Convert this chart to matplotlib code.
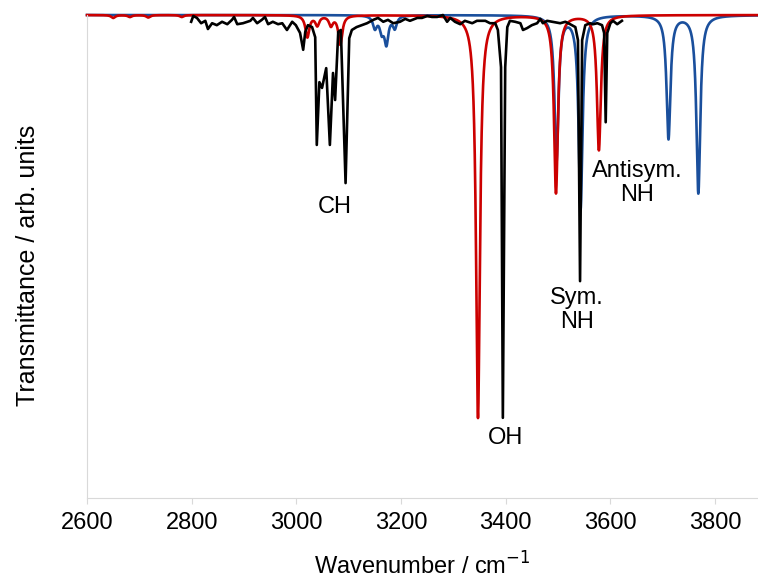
import numpy as np
import matplotlib
matplotlib.use('Agg')
import matplotlib.pyplot as plt

plt.rcParams['font.family'] = ['Liberation Sans', 'DejaVu Sans']

# experimental spectrum (wavenumber / cm-1, transmittance)
exp_wn = [2799, 2803, 2810, 2818, 2826, 2831, 2839, 2848, 2858, 2868, 2877, 2881,
          2887, 2898, 2912, 2917, 2925, 2934, 2940, 2946, 2955, 2965, 2973, 2982,
          2992, 2999, 3007, 3013, 3017, 3022, 3030, 3036, 3039, 3044, 3049, 3057,
          3064, 3070, 3074, 3080, 3085, 3094, 3101, 3106, 3115, 3125, 3135, 3147,
          3156, 3166, 3175, 3185, 3198, 3208, 3217, 3231, 3240, 3250, 3259, 3269,
          3280, 3288, 3294, 3303, 3313, 3322, 3336, 3345, 3361, 3370, 3380, 3385,
          3391, 3394.5, 3399, 3403, 3408, 3418, 3428, 3433, 3441, 3450, 3460, 3466,
          3471, 3479, 3489, 3504, 3514, 3523, 3533, 3538, 3542, 3546, 3552, 3561,
          3567, 3575, 3584, 3588, 3591, 3594, 3600, 3605, 3613, 3622]
exp_t = [0.986, 0.998, 0.994, 0.983, 0.988, 0.971, 0.983, 0.979, 0.986, 0.981, 0.990, 0.996,
         0.981, 0.983, 0.988, 0.994, 0.983, 0.990, 0.996, 0.981, 0.986, 0.981, 0.983, 0.969,
         0.986, 0.979, 0.963, 0.928, 0.965, 0.979, 0.975, 0.954, 0.731, 0.861, 0.849, 0.890,
         0.731, 0.880, 0.824, 0.965, 0.969, 0.652, 0.952, 0.969, 0.975, 0.979, 0.983, 0.990,
         0.994, 0.986, 0.990, 0.983, 0.986, 0.992, 0.988, 0.994, 0.994, 0.998, 0.996, 0.996,
         1.000, 0.986, 0.994, 0.986, 0.981, 0.988, 0.983, 0.988, 0.988, 0.983, 0.983, 0.969,
         0.892, 0.166, 0.892, 0.975, 0.988, 0.986, 0.983, 0.969, 0.973, 0.979, 0.983, 0.992,
         0.983, 0.988, 0.986, 0.983, 0.986, 0.981, 0.975, 0.948, 0.449, 0.948, 0.979, 0.983,
         0.981, 0.983, 0.979, 0.963, 0.778, 0.963, 0.983, 0.988, 0.981, 0.988]

# computed stick spectra (position / cm-1, depth)
red_pos = [2650, 2682, 2717, 2781, 3021, 3040, 3066, 3084, 3347, 3496, 3578]
red_depth = [0.006, 0.004, 0.005, 0.004, 0.045, 0.02, 0.02, 0.06, 0.834, 0.368, 0.279]
blue_pos = [3150, 3163, 3172, 3188, 3497, 3543, 3711, 3768]
blue_depth = [0.025, 0.03, 0.056, 0.025, 0.3, 0.4, 0.255, 0.368]
hwhm = 4.5

labels = ['CH', 'OH', 'Sym.\nNH', 'Antisym.\nNH']
label_x = [3074, 3399, 3536, 3651]
label_y = [0.603, 0.124, 0.389, 0.652]

wn = np.arange(2600, 3885, 0.1)


def broaden(pos, depth):
    t = np.ones_like(wn)
    for p, d in zip(pos, depth):
        t -= d / (1 + ((wn - p) / hwhm) ** 2)
    return t


fig = plt.figure(figsize=(7.58, 5.82), dpi=100)
ax = fig.add_axes([0.1148, 0.1443, 0.8852, 0.8299])

ax.plot(wn, broaden(blue_pos, blue_depth), color='#1a4f9c', lw=1.9, clip_on=False)
ax.plot(wn, broaden(red_pos, red_depth), color='#cc0000', lw=1.9, clip_on=False)
ax.plot(exp_wn, exp_t, color='black', lw=1.9, clip_on=False)

for s, x, y in zip(labels, label_x, label_y):
    ax.text(x, y, s, ha='center', va='center', fontsize=17, linespacing=1.1)

ax.set_xlim(2600, 3882)
ax.set_ylim(0, 1)
ax.set_xticks(range(2600, 3801, 200))
ax.set_yticks([])
ax.tick_params(axis='x', labelsize=17, color='#d9d9d9', length=4, pad=6)
for side in ['top', 'right']:
    ax.spines[side].set_visible(False)
for side in ['left', 'bottom']:
    ax.spines[side].set_color('#d9d9d9')
ax.set_xlabel('Wavenumber / cm$^{-1}$', fontsize=17)
ax.set_ylabel('Transmittance / arb. units', fontsize=18)
ax.xaxis.set_label_coords(0.5, -0.112)
ax.yaxis.set_label_coords(-0.07, 0.482)

fig.savefig('out.png', dpi=100)
